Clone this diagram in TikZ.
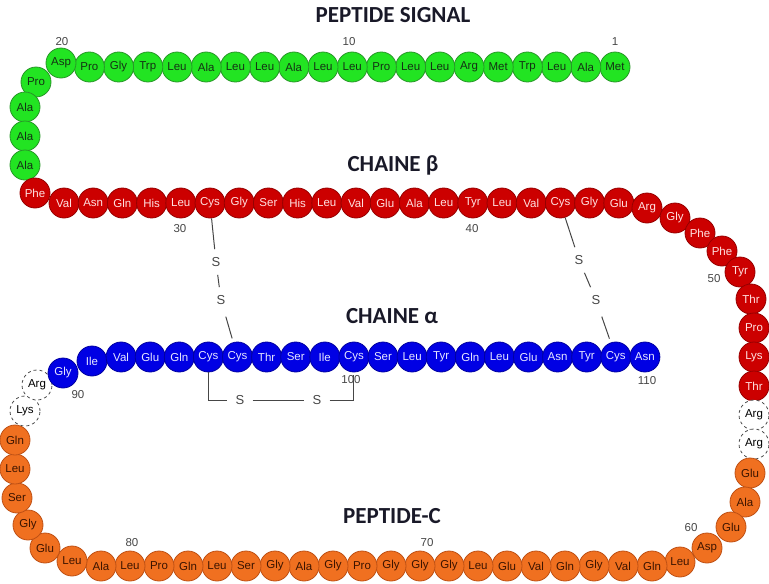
\documentclass[tikz,border=0pt]{standalone}
\usepackage{fontspec}
\setmainfont{Liberation Sans}
\newfontfamily\titlefont{Carlito}
\usepackage{tikz}

\definecolor{sigfill}{RGB}{34,228,34}
\definecolor{sigline}{RGB}{40,150,40}
\definecolor{sigtext}{RGB}{20,50,20}
\definecolor{bfill}{RGB}{204,0,0}
\definecolor{bline}{RGB}{150,0,0}
\definecolor{btext}{RGB}{255,225,225}
\definecolor{afill}{RGB}{0,0,228}
\definecolor{aline}{RGB}{0,0,160}
\definecolor{atext}{RGB}{230,230,255}
\definecolor{cfill}{RGB}{240,112,32}
\definecolor{cline}{RGB}{190,80,20}
\definecolor{ctext}{RGB}{60,20,0}
\definecolor{numgray}{RGB}{70,70,70}
\definecolor{titlecol}{RGB}{25,25,40}

\tikzset{
  aa/.style={circle, minimum size=30pt, inner sep=0pt, line width=0.8pt, font=\fontsize{11.5}{11.5}\selectfont},
  resS/.style={aa, draw=sigline, fill=sigfill, text=sigtext},
  resB/.style={aa, draw=bline, fill=bfill, text=btext},
  resA/.style={aa, draw=aline, fill=afill, text=atext},
  resC/.style={aa, draw=cline, fill=cfill, text=ctext},
  resX/.style={aa, draw=black!70, dashed, fill=white, text=black},
  num/.style={text=numgray, inner sep=0pt, font=\fontsize{11.5}{11.5}\selectfont},
  titre/.style={text=titlecol, font=\titlefont\bfseries\fontsize{23}{23}\selectfont},
  sulf/.style={text=numgray, inner sep=8pt, font=\fontsize{13}{13}\selectfont},
  sbond/.style={draw=numgray, line width=1pt}
}

\begin{document}
\begin{tikzpicture}[x=1pt, y=-1pt]
\useasboundingbox (0,0) rectangle (769,584);

% titres
\node[titre] (tsig) at (393,15) {PEPTIDE SIGNAL};
\node[titre] (tbeta) at (393,165) {CHAINE β};
\node[titre] (talpha) at (392,316) {CHAINE α};
\node[titre] (tpepc) at (392,516) {PEPTIDE-C};

% peptide signal
\node[resS] (1) at (615.0,67) {Met};
\node[resS] (2) at (585.8,67) {Ala};
\node[resS] (3) at (556.6,67) {Leu};
\node[resS] (4) at (527.4,67) {Trp};
\node[resS] (5) at (498.2,67) {Met};
\node[resS] (6) at (469.0,67) {Arg};
\node[resS] (7) at (439.8,67) {Leu};
\node[resS] (8) at (410.6,67) {Leu};
\node[resS] (9) at (381.4,67) {Pro};
\node[resS] (10) at (352.2,67) {Leu};
\node[resS] (11) at (323.0,67) {Leu};
\node[resS] (12) at (293.8,67) {Ala};
\node[resS] (13) at (264.6,67) {Leu};
\node[resS] (14) at (235.4,67) {Leu};
\node[resS] (15) at (206.2,67) {Ala};
\node[resS] (16) at (177.0,67) {Leu};
\node[resS] (17) at (147.8,67) {Trp};
\node[resS] (18) at (118.6,67) {Gly};
\node[resS] (19) at (89.4,67) {Pro};
\node[resS] (20) at (61,63) {Asp};
\node[resS] (21) at (36,82) {Pro};
\node[resS] (22) at (25,107) {Ala};
\node[resS] (23) at (25,136) {Ala};
\node[resS] (24) at (25,165) {Ala};

% chaine beta
\node[resB] (25) at (35,193) {Phe};
\node[resB] (26) at (64.0,203) {Val};
\node[resB] (27) at (93.2,203) {Asn};
\node[resB] (28) at (122.4,203) {Gln};
\node[resB] (29) at (151.6,203) {His};
\node[resB] (30) at (180.8,203) {Leu};
\node[resB] (31) at (210.0,203) {Cys};
\node[resB] (32) at (239.2,203) {Gly};
\node[resB] (33) at (268.4,203) {Ser};
\node[resB] (34) at (297.6,203) {His};
\node[resB] (35) at (326.8,203) {Leu};
\node[resB] (36) at (356.0,203) {Val};
\node[resB] (37) at (385.2,203) {Glu};
\node[resB] (38) at (414.4,203) {Ala};
\node[resB] (39) at (443.6,203) {Leu};
\node[resB] (40) at (472.8,203) {Tyr};
\node[resB] (41) at (502.0,203) {Leu};
\node[resB] (42) at (531.2,203) {Val};
\node[resB] (43) at (560.4,203) {Cys};
\node[resB] (44) at (589.6,203) {Gly};
\node[resB] (45) at (618.8,203) {Glu};
\node[resB] (46) at (647,208) {Arg};
\node[resB] (47) at (675,218) {Gly};
\node[resB] (48) at (700,233) {Phe};
\node[resB] (49) at (722,251) {Phe};
\node[resB] (50) at (740,272) {Tyr};
\node[resB] (51) at (751,299) {Thr};
\node[resB] (52) at (754,328) {Pro};
\node[resB] (53) at (754,357) {Lys};
\node[resB] (54) at (754,386) {Thr};
\node[resX] (55) at (754,415) {Arg};
\node[resX] (56) at (754,444) {Arg};

% peptide C
\node[resC] (57) at (750,473) {Glu};
\node[resC] (58) at (745,502) {Ala};
\node[resC] (59) at (731,527) {Glu};
\node[resC] (60) at (707,548) {Asp};
\node[resC] (61) at (680,562) {Leu};
\node[resC] (62) at (652,566) {Gln};
\node[resC] (63) at (623,566) {Val};
\node[resC] (64) at (594,566) {Gly};
\node[resC] (65) at (565,566) {Gln};
\node[resC] (66) at (536,566) {Val};
\node[resC] (67) at (507,566) {Glu};
\node[resC] (68) at (478,566) {Leu};
\node[resC] (69) at (449,566) {Gly};
\node[resC] (70) at (420,566) {Gly};
\node[resC] (71) at (391,566) {Gly};
\node[resC] (72) at (362,566) {Pro};
\node[resC] (73) at (333,566) {Gly};
\node[resC] (74) at (304,566) {Ala};
\node[resC] (75) at (275,566) {Gly};
\node[resC] (76) at (246,566) {Ser};
\node[resC] (77) at (217,566) {Leu};
\node[resC] (78) at (188,566) {Gln};
\node[resC] (79) at (159,566) {Pro};
\node[resC] (80) at (130,566) {Leu};
\node[resC] (81) at (101,566) {Ala};
\node[resC] (82) at (72,561) {Leu};
\node[resC] (83) at (45,548) {Glu};
\node[resC] (84) at (28,525) {Gly};
\node[resC] (85) at (17,498) {Ser};
\node[resC] (86) at (15,469) {Leu};
\node[resC] (87) at (15,440) {Gln};
\node[resX] (88) at (25,411) {Lys};
\node[resX] (89) at (37,385) {Arg};

% chaine alpha
\node[resA] (90) at (63,373) {Gly};
\node[resA] (91) at (92,361) {Ile};
\node[resA] (92) at (121.1,357) {Val};
\node[resA] (93) at (150.2,357) {Glu};
\node[resA] (94) at (179.3,357) {Gln};
\node[resA] (95) at (208.4,357) {Cys};
\node[resA] (96) at (237.5,357) {Cys};
\node[resA] (97) at (266.6,357) {Thr};
\node[resA] (98) at (295.7,357) {Ser};
\node[resA] (99) at (324.8,357) {Ile};
\node[resA] (100) at (353.9,357) {Cys};
\node[resA] (101) at (383.0,357) {Ser};
\node[resA] (102) at (412.1,357) {Leu};
\node[resA] (103) at (441.2,357) {Tyr};
\node[resA] (104) at (470.3,357) {Gln};
\node[resA] (105) at (499.4,357) {Leu};
\node[resA] (106) at (528.5,357) {Glu};
\node[resA] (107) at (557.6,357) {Asn};
\node[resA] (108) at (586.7,357) {Tyr};
\node[resA] (109) at (615.8,357) {Cys};
\node[resA] (110) at (644.9,357) {Asn};

% numeros
\node[num] (n1) at (615,42) {1};
\node[num] (n10) at (349,42) {10};
\node[num] (n20) at (62,42) {20};
\node[num] (n30) at (180,229) {30};
\node[num] (n40) at (472,229) {40};
\node[num] (n50) at (714,279) {50};
\node[num] (n60) at (691,528) {60};
\node[num] (n70) at (427,543) {70};
\node[num] (n80) at (132,543) {80};
\node[num] (n90) at (78,395) {90};
\node[num] (n100) at (351,380) {100};
\node[num] (n110) at (647,381) {110};

% ponts disulfure
\node[sulf] (s1) at (216,262) {S};
\node[sulf] (s2) at (221,300) {S};
\node[sulf] (s3) at (579,260) {S};
\node[sulf] (s4) at (596,300) {S};
\node[sulf] (s5) at (240,400) {S};
\node[sulf] (s6) at (317,400) {S};
\draw[sbond, shorten <=4pt, shorten >=4pt] (31) -- (s1) -- (s2) -- (96);
\draw[sbond, shorten <=4pt, shorten >=4pt] (43) -- (s3) -- (s4) -- (109);
\draw[sbond] (95) |- (s5);
\draw[sbond] (s5) -- (s6);
\draw[sbond, shorten >=3pt] (s6) -| (100);

\end{tikzpicture}
\end{document}
